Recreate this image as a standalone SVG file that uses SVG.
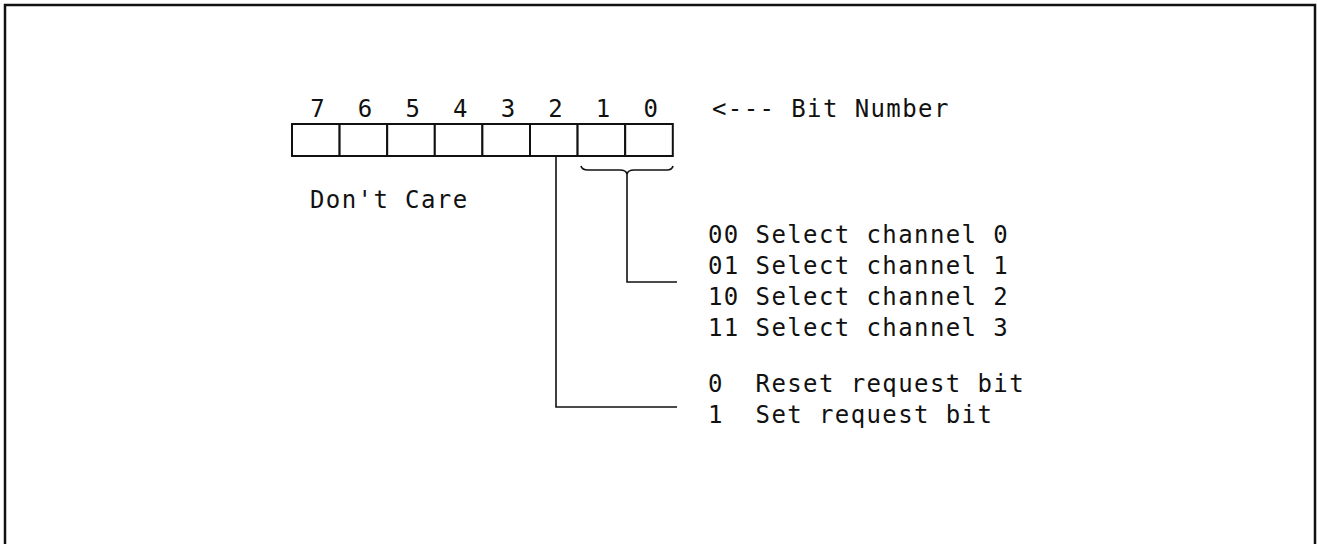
<svg xmlns="http://www.w3.org/2000/svg" width="1317" height="544" viewBox="0 0 1317 544">
<style>
.t{font-family:"DejaVu Sans Mono","Liberation Mono",monospace;font-size:24px;letter-spacing:1.4px;fill:#111;white-space:pre}
.d{font-family:"DejaVu Sans Mono","Liberation Mono",monospace;font-size:24px;fill:#111;text-anchor:middle}
.cell{fill:#fff;stroke:#111;stroke-width:2}
.ln{fill:none;stroke:#111;stroke-width:1.6}
</style>
<rect width="1317" height="544" fill="#fff"/>
<path d="M5,544 V5 H1315 V544" fill="none" stroke="#111" stroke-width="2.5"/>
<g id="register">
<rect class="cell" x="292" y="124" width="47.6" height="32"/>
<rect class="cell" x="339.6" y="124" width="47.6" height="32"/>
<rect class="cell" x="387.2" y="124" width="47.6" height="32"/>
<rect class="cell" x="434.8" y="124" width="47.6" height="32"/>
<rect class="cell" x="482.4" y="124" width="47.6" height="32"/>
<rect class="cell" x="530" y="124" width="47.6" height="32"/>
<rect class="cell" x="577.6" y="124" width="47.6" height="32"/>
<rect class="cell" x="625.2" y="124" width="47.6" height="32"/>
<text class="d" x="317.5" y="117">7</text>
<text class="d" x="365.1" y="117">6</text>
<text class="d" x="412.7" y="117">5</text>
<text class="d" x="460.3" y="117">4</text>
<text class="d" x="507.9" y="117">3</text>
<text class="d" x="555.5" y="117">2</text>
<text class="d" x="603.1" y="117">1</text>
<text class="d" x="650.7" y="117">0</text>
</g>
<g id="bit-number-label"><text class="t" x="712" y="117">&lt;--- Bit Number</text></g>
<g id="dont-care"><text class="t" x="310" y="208">Don't Care</text></g>
<g id="channel-select">
<text class="t" x="708" y="243">00 Select channel 0</text>
<text class="t" x="708" y="274">01 Select channel 1</text>
<text class="t" x="708" y="305">10 Select channel 2</text>
<text class="t" x="708" y="336">11 Select channel 3</text>
</g>
<g id="request-bit">
<text class="t" x="708" y="392" xml:space="preserve">0  Reset request bit</text>
<text class="t" x="708" y="423" xml:space="preserve">1  Set request bit</text>
</g>
<g id="connectors">
<path class="ln" d="M581,166 Q582,170 588,170 H620 Q626,170 627,174 Q628,170 634,170 H667 Q672,170 673,166"/>
<path class="ln" d="M627,174 V282 H677"/>
<path class="ln" d="M556,156 V407 H677"/>
</g>
</svg>
